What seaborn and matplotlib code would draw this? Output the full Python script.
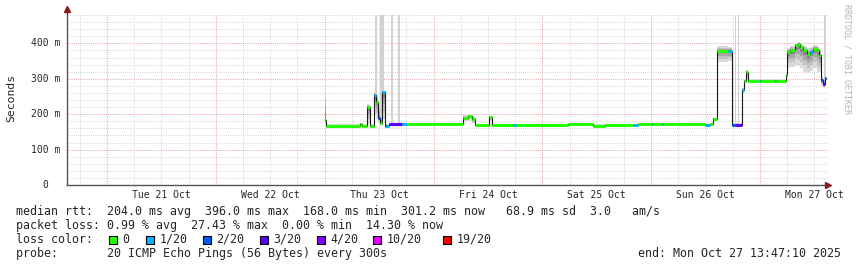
import numpy as np
import pandas as pd
import matplotlib
matplotlib.use("Agg")
import matplotlib.pyplot as plt
import matplotlib.transforms as mtransforms
from matplotlib.patches import Rectangle
import seaborn as sns

# ---------------- data ----------------
# time: hours since Mon 20 Oct 2025 00:00 ; values in ms
seg_start_h = [72.07, 72.35, 79.79, 80.23, 81.22, 81.99, 82.87, 83.32, 83.65, 84.2,
               84.53, 85.19, 85.52, 86.18, 89.05, 90.15,
               102.5, 103.6, 104.5, 105.15, 108.2, 108.9, 113.5, 114.2,
               125.6, 131.2, 133.8, 140.0, 141.1,
               144.2, 144.5, 146.4, 146.7, 153.0, 155.4, 155.9, 157.0, 157.7, 158.4,
               160.9, 161.8, 162.5, 164.1, 164.4, 165.0, 165.4, 168.0, 168.3, 171.3,
               171.6, 173.7, 174.0, 174.7, 175.8, 176.3, 176.9, 177.5, 178.3, 179.1,
               179.7, 180.5, 181.1, 181.4, 181.8, 182.3]
median_ms = [183, 168, 172, 168, 220, 168, 255, 235, 190, 175,
             262, 168, 168, 171, 171, 171,
             190, 195, 185, 170, 193, 170, 170, 170,
             171, 168, 170, 169, 171,
             171, 171, 171, 171, 173, 171, 170, 172, 185, 378,
             378, 170, 170, 268, 295, 320, 295, 295, 295, 295,
             295, 310, 375, 380, 394, 399, 390, 380, 369, 375,
             385, 380, 366, 296, 286, 301]
loss_of_20 = [0, 0, 0, 0, 0, 0, 1, 0, 2, 0,
              1, 2, 1, 3, 1, 0,
              0, 0, 0, 0, 0, 0, 1, 0,
              0, 0, 0, 1, 0,
              1, 0, 1, 0, 0, 0, 1, 0, 0, 0,
              1, 2, 3, 1, 0, 0, 0, 1, 0, 1,
              0, 0, 0, 0, 0, 0, 0, 0, 0, 1,
              0, 0, 0, 2, 3, 2]
smoke_lo_ms = [170, 166, 168, 166, 172, 166, 200, 190, 175, 168,
               185, 166, 166, 168, 168, 168,
               180, 182, 176, 167, 180, 167, 167, 167,
               168, 166, 167, 167, 168,
               168, 168, 168, 168, 170, 168, 167, 169, 180, 348,
               350, 167, 167, 260, 292, 300, 292, 292, 292, 292,
               292, 300, 330, 332, 340, 335, 330, 320, 315, 322,
               330, 318, 320, 280, 274, 285]
smoke_hi_ms = [270, 171, 176, 171, 228, 171, 262, 250, 225, 200,
               265, 172, 172, 174, 174, 174,
               197, 198, 195, 173, 196, 173, 173, 173,
               174, 171, 173, 172, 174,
               174, 174, 174, 174, 176, 174, 173, 175, 190, 392,
               390, 174, 174, 275, 298, 325, 298, 298, 298, 298,
               298, 318, 388, 392, 398, 404, 398, 392, 388, 390,
               396, 392, 384, 305, 300, 310]
data_end_h = 182.6
spike_h = [83.2, 84.3, 84.65, 86.7, 88.2, 162.4, 163.1, 182.2]
spike_top_ms = [480, 480, 480, 480, 480, 480, 480, 480]

day_labels = ["Tue 21 Oct", "Wed 22 Oct", "Thu 23 Oct", "Fri 24 Oct",
              "Sat 25 Oct", "Sun 26 Oct", "Mon 27 Oct"]
y_ticks_ms = [0, 100, 200, 300, 400]

loss_levels = [0, 1, 2, 3, 4, 10, 19]
loss_labels = ["0", "1/20", "2/20", "3/20", "4/20", "10/20", "19/20"]
loss_colors = ["#26ff00", "#00b8ff", "#0059ff", "#5e00ff", "#7e00ff", "#dd00ff", "#ff0000"]

row_median = "median rtt:  204.0 ms avg  396.0 ms max  168.0 ms min  301.2 ms now   68.9 ms sd  3.0   am/s"
row_loss = "packet loss: 0.99 % avg  27.43 % max  0.00 % min  14.30 % now"
row_color = "loss color:"
row_probe = "probe:       20 ICMP Echo Pings (56 Bytes) every 300s"
end_text = "end: Mon Oct 27 13:47:10 2025"
side_text = "RRDTOOL / TOBI OETIKER"

# ---------------- style / layout ----------------
sns.set_style("white")
MONO = ["DejaVu Sans Mono"]
plt.rcParams["font.family"] = MONO

W, H = 857, 267
fig = plt.figure(figsize=(W / 100, H / 100), dpi=100)
fig.patch.set_facecolor("white")
ax_l, ax_r, ax_t, ax_b = 67, 828, 15, 185
ax = fig.add_axes([ax_l / W, 1 - ax_b / H, (ax_r - ax_l) / W, (ax_b - ax_t) / H])
ax.set_facecolor("white")
ax.set_xlim(15.18, 182.98)
ax.set_ylim(0, 480)

def fx(px):
    return px / W

def fy(py):
    return 1 - py / H

# grid
minor_c, major_c = "#d6d6d6", "#e6a3a3"
dots = (0, (1, 1.2))
for h in np.arange(18, 183, 6):
    if h % 24:
        ax.axvline(h, color=minor_c, lw=0.7, ls=dots, zorder=0)
for v in range(20, 481, 20):
    if v % 100:
        ax.axhline(v, color=minor_c, lw=0.7, ls=dots, zorder=0)
for h in range(24, 183, 24):
    ax.axvline(h, color=major_c, lw=0.7, ls=dots, zorder=0.5)
for v in y_ticks_ms[1:]:
    ax.axhline(v, color=major_c, lw=0.7, ls=dots, zorder=0.5)

# smoke
xs = np.array(seg_start_h + [data_end_h])
med = np.array(median_ms + [median_ms[-1]], dtype=float)
lo = np.array(smoke_lo_ms + [smoke_lo_ms[-1]], dtype=float)
hi = np.array(smoke_hi_ms + [smoke_hi_ms[-1]], dtype=float)

for t, top in zip(spike_h, spike_top_ms):
    i = max(np.searchsorted(xs, t, side="right") - 1, 0)
    ax.fill_between([t, t + 0.35], med[i], top, color="#d2d2d2", lw=0, zorder=1)

for f, c in zip([1.0, 0.7, 0.45, 0.22], ["#dadada", "#c2c2c2", "#a6a6a6", "#888888"]):
    ax.fill_between(xs, med - (med - lo) * f, med + (hi - med) * f,
                    step="post", color=c, lw=0, zorder=2)

# median line (black steps) via seaborn
df = pd.DataFrame({"t": xs, "ms": med})
sns.lineplot(data=df, x="t", y="ms", drawstyle="steps-post", estimator=None,
             sort=True, color="#1a1a1a", lw=0.8, ax=ax, legend=False, zorder=3)

# loss-coloured horizontal parts
def loss_color(n):
    idx = 0
    for k, lv in enumerate(loss_levels):
        if n >= lv:
            idx = k
    return loss_colors[idx]

for i in range(len(seg_start_h)):
    ax.hlines(median_ms[i], xs[i], xs[i + 1], colors=loss_color(loss_of_20[i]),
              lw=2.2, zorder=4, capstyle="butt")

# axes / spines
for s in ["top", "right"]:
    ax.spines[s].set_visible(False)
for s in ["left", "bottom"]:
    ax.spines[s].set_color("#555555")
    ax.spines[s].set_linewidth(1.0)
ax.set_xlabel("")
ax.set_ylabel("")

noon = [24 * (d + 1) + 12 for d in range(7)]
ax.set_xticks(noon)
ax.set_xticklabels(day_labels, fontsize=7, family=MONO)
ax.tick_params(axis="x", length=0, pad=3.5)
ax.set_xticks(range(24, 183, 24), minor=True)
ax.tick_params(axis="x", which="minor", length=2, direction="inout", color="#555555")
ax.set_yticks(y_ticks_ms)
ax.set_yticklabels([])
ax.tick_params(axis="y", length=2, direction="inout", color="#555555")

cw7 = 7 * 100 / 72 * 0.602
for v in y_ticks_ms:
    lab = f"{v} m" if v else "0"
    off = -7 if v else -7 - 2 * cw7
    tr = mtransforms.offset_copy(ax.get_yaxis_transform(), fig=fig, x=off * 0.72, y=0, units="points")
    ax.text(0, v, lab, transform=tr, ha="right", va="center", fontsize=7, family=MONO)

# arrows
ax.plot([1.0], [0], marker=">", color="#8b1a1a", ms=4.5, transform=ax.transAxes, clip_on=False, zorder=6)
ax.plot([0], [1.035], marker="^", color="#8b1a1a", ms=4.5, transform=ax.transAxes, clip_on=False, zorder=6)
ax.plot([0, 0], [1.0, 1.035], color="#555555", lw=1.0, transform=ax.transAxes, clip_on=False)

# y label / side text
fig.text(fx(11), fy(98), "Seconds", rotation=90, ha="center", va="center", fontsize=8.2, family=MONO)
fig.text(fx(847), fy(4), side_text, rotation=270, ha="center", va="top", fontsize=6,
         color="#b4b4b4", family=MONO)

# legend rows
fs = 8.4
fig.text(fx(16), fy(211.5), row_median, ha="left", va="center", fontsize=fs, family=MONO)
fig.text(fx(16), fy(225.3), row_loss, ha="left", va="center", fontsize=fs, family=MONO)
fig.text(fx(16), fy(239.3), row_color, ha="left", va="center", fontsize=fs, family=MONO)
fig.text(fx(16), fy(253.3), row_probe, ha="left", va="center", fontsize=fs, family=MONO)
fig.text(fx(841), fy(253.3), end_text, ha="right", va="center", fontsize=fs, family=MONO)

box_x = [109, 146, 203, 260, 317, 373, 443]
for bx, lab, col in zip(box_x, loss_labels, loss_colors):
    fig.add_artist(Rectangle((fx(bx), fy(243.5)), 8 / W, 8 / H, transform=fig.transFigure,
                             facecolor=col, edgecolor="black", lw=0.8))
    fig.text(fx(bx + 13.5), fy(239.3), lab, ha="left", va="center", fontsize=fs, family=MONO)

fig.savefig("out.png", dpi=100, facecolor="white")
